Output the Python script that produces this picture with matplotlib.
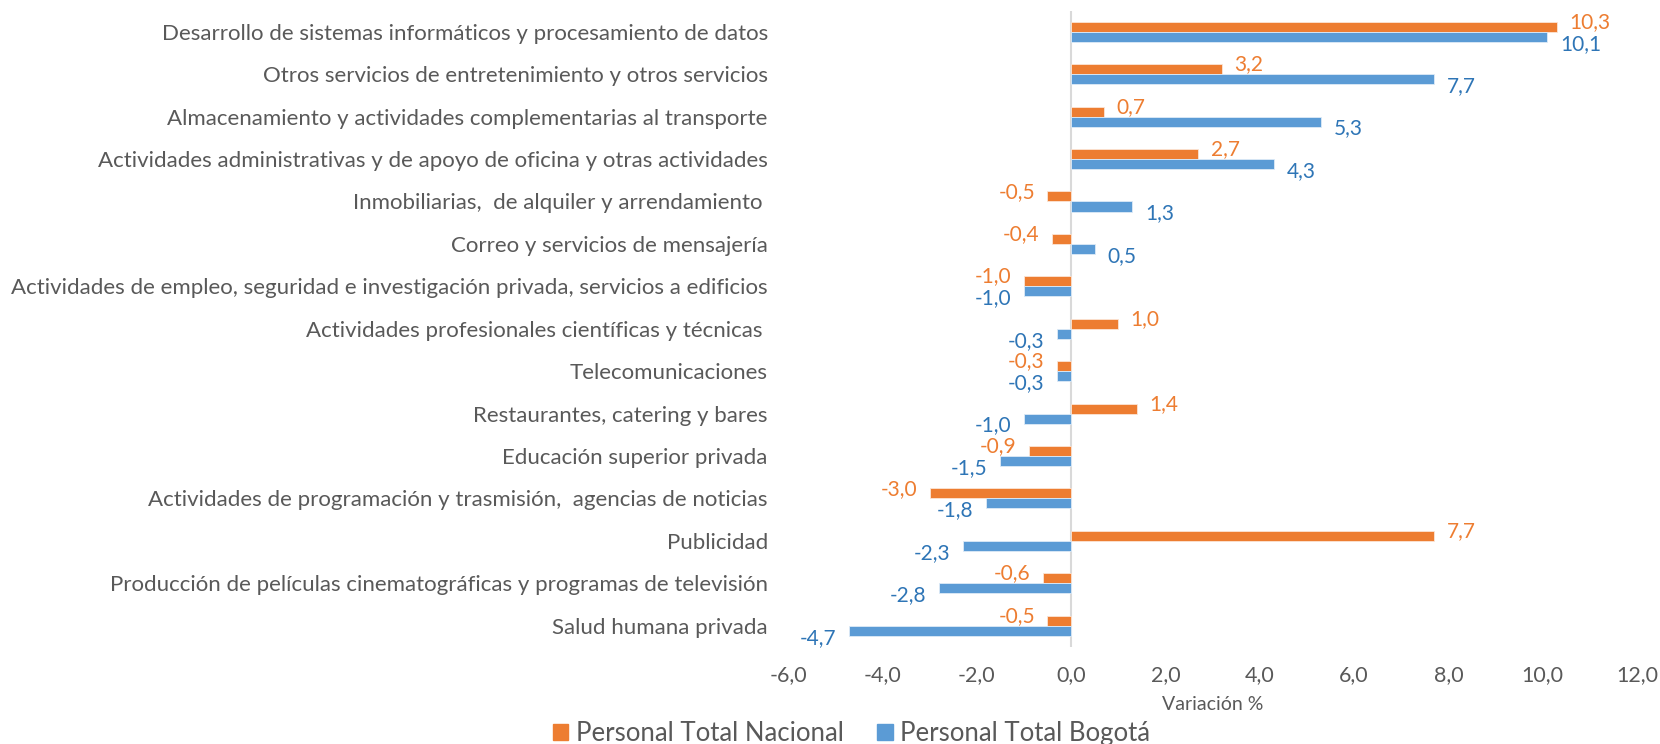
import numpy as np
import matplotlib.pyplot as plt
from matplotlib.patches import Patch

plt.rcParams['font.family'] = ['Lato', 'DejaVu Sans']

# Data (top to bottom as shown)
categories = [
    "Desarrollo de sistemas informáticos y procesamiento de datos",
    "Otros servicios de entretenimiento y otros servicios",
    "Almacenamiento y actividades complementarias al transporte",
    "Actividades administrativas y de apoyo de oficina y otras actividades",
    "Inmobiliarias,  de alquiler y arrendamiento ",
    "Correo y servicios de mensajería",
    "Actividades de empleo, seguridad e investigación privada, servicios a edificios",
    "Actividades profesionales científicas y técnicas ",
    "Telecomunicaciones",
    "Restaurantes, catering y bares",
    "Educación superior privada",
    "Actividades de programación y trasmisión,  agencias de noticias",
    "Publicidad",
    "Producción de películas cinematográficas y programas de televisión",
    "Salud humana privada",
]
nacional = [10.3, 3.2, 0.7, 2.7, -0.5, -0.4, -1.0, 1.0, -0.3, 1.4, -0.9, -3.0, 7.7, -0.6, -0.5]
bogota = [10.1, 7.7, 5.3, 4.3, 1.3, 0.5, -1.0, -0.3, -0.3, -1.0, -1.5, -1.8, -2.3, -2.8, -4.7]
xticks = [-6, -4, -2, 0, 2, 4, 6, 8, 10, 12]

ORANGE = '#ED7D31'
BLUE = '#5B9BD5'
BLUE_TXT = '#2E75B6'
GRAY = '#595959'

fmt = lambda v: f"{v:.1f}".replace('.', ',')

fig = plt.figure(figsize=(16.6, 7.44), dpi=100)
ax = fig.add_axes([0.4747, 0.1304, 0.5115, 0.8554])

y = np.arange(len(categories))
h = 0.236
ax.barh(y - h / 2, nacional, height=h, color=ORANGE, edgecolor='#FBE5D6', linewidth=0.6)
ax.barh(y + h / 2, bogota, height=h, color=BLUE, edgecolor='#DEEBF7', linewidth=0.6)

# data labels: orange nudged up, blue nudged down so pairs don't collide
for yi, v in zip(y, nacional):
    ax.annotate(fmt(v), (v, yi - h / 2), xytext=(9 if v >= 0 else -9, 3.5),
                textcoords='offset points', ha='left' if v >= 0 else 'right',
                va='center', color=ORANGE, fontsize=15)
for yi, v in zip(y, bogota):
    ax.annotate(fmt(v), (v, yi + h / 2), xytext=(9 if v >= 0 else -9, -5),
                textcoords='offset points', ha='left' if v >= 0 else 'right',
                va='center', color=BLUE_TXT, fontsize=15)

ax.axvline(0, color='#D9D9D9', linewidth=1.5, zorder=0)
ax.set_xlim(-6, 12)
ax.set_ylim(len(categories) - 0.5, -0.5)
ax.set_yticks(y)
ax.set_yticklabels(categories, fontsize=16, color=GRAY)
ax.set_xticks(xticks)
ax.set_xticklabels([fmt(t) for t in xticks], fontsize=15.5, color=GRAY)
ax.tick_params(axis='y', length=0, pad=14.5)
ax.tick_params(axis='x', length=0, pad=13)
ax.set_xlabel('Variación %', fontsize=14, color=GRAY, labelpad=8)
for s in ax.spines.values():
    s.set_visible(False)

handles = [Patch(color=ORANGE, label='Personal Total Nacional'),
           Patch(color=BLUE, label='Personal Total Bogotá')]
fig.legend(handles=handles, loc='lower center', bbox_to_anchor=(0.513, -0.034),
           ncol=2, frameon=False, fontsize=18.5, handlelength=0.6, handleheight=0.6,
           handletextpad=0.3, columnspacing=1.3, labelcolor=GRAY)

fig.savefig('out.png', dpi=100)
